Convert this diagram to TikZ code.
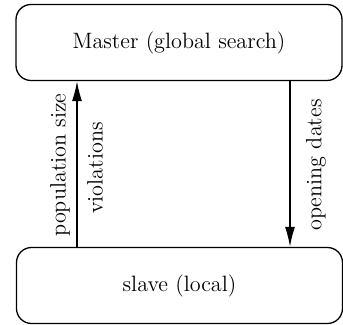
\documentclass[tikz,border=0pt]{standalone}
\usetikzlibrary{arrows.meta}

\begin{document}
\begin{tikzpicture}[x=0.5pt,y=-0.5pt,line width=0.65pt,
    levelbox/.style={draw,rounded corners=7.5pt,minimum width=163pt,
      minimum height=38pt,font=\fontsize{11.1}{13}\selectfont},
    flowlabel/.style={rotate=90,font=\fontsize{11.1}{13}\selectfont,inner sep=0pt}]
      \useasboundingbox (0,0) rectangle (343,325);

      \node[levelbox] (master) at (179, 42.5) {Master (global search)};
      \node[levelbox] (slave) at (179.5, 285.5) {slave (local)};

      \draw[-{Latex[length=10pt,width=5pt]}] (slave.north -| 77,0) --
        (master.south -| 77,0);
      \draw[-{Latex[length=10pt,width=5pt]}] (master.south -| 290,0) --
        (slave.north -| 290,0);

      \node[flowlabel] (popsize) at (60, 165) {population size};
      \node[flowlabel] (viol) at (95, 168) {violations};
      \node[flowlabel] (opening) at (316, 165) {opening dates};
    \end{tikzpicture}
\end{document}
